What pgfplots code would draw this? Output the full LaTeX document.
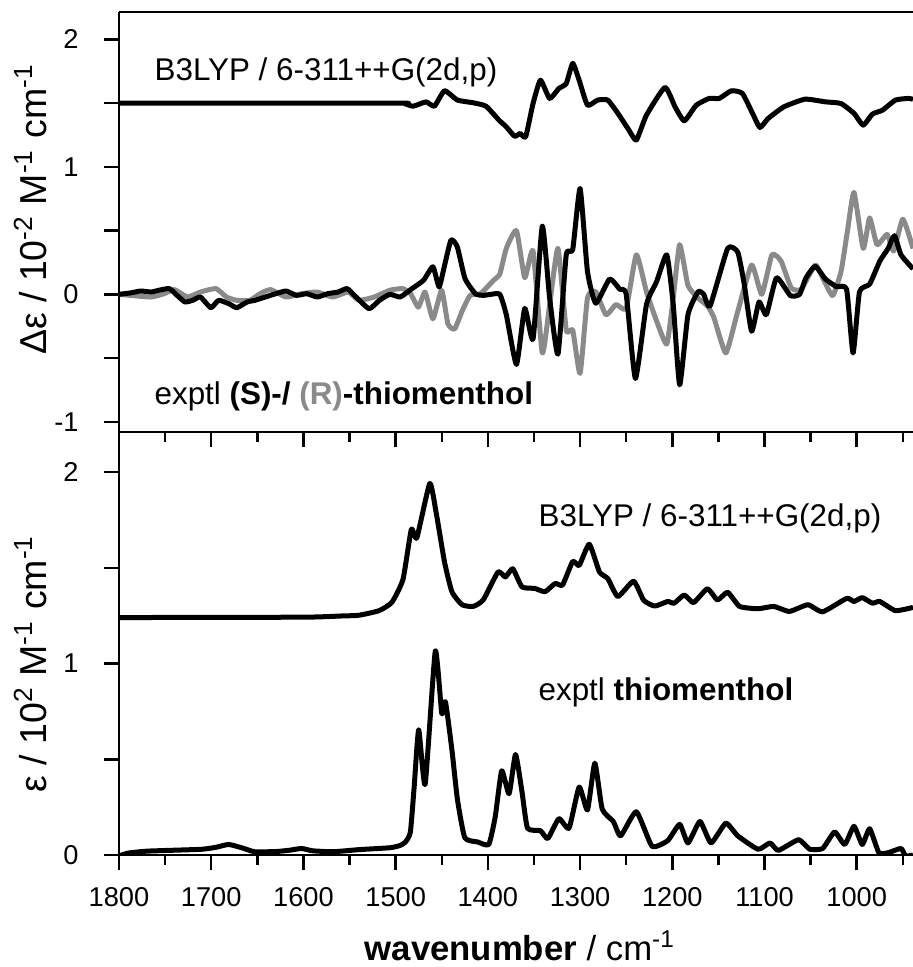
\documentclass[border=0pt]{standalone}
\usepackage{fontspec}
\setmainfont{Liberation Sans}
\usepackage{pgfplots}
\pgfplotsset{compat=1.18}
\definecolor{rgray}{RGB}{138,138,138}
\begin{document}
\begin{tikzpicture}
\useasboundingbox (-42.84pt,-40.32pt) rectangle (285.84pt,307.8pt);
\pgfplotsset{
  common/.style={
    scale only axis, width=285.84pt,
    xmin=939, xmax=1800, x dir=reverse,
    axis x line*=box, axis y line*=left,
    axis line style={line width=1pt},
    tick style={line width=0.9pt, black},
    tick align=outside,
    major tick length=5.5pt, minor tick length=3.5pt,
    xtick={1000,1100,1200,1300,1400,1500,1600,1700,1800},
    minor xtick={950,1050,1150,1250,1350,1450,1550,1650,1750},
    xtick pos=bottom, ytick pos=left,
    tick label style={font=\fontsize{9.8}{11}\selectfont},
    yticklabel style={xshift=-5.5pt},
    xticklabel style={yshift=-2.5pt},
    every axis plot/.append style={line width=1.8pt, line join=round, smooth, tension=0.3},
  }
}
% ---------------- bottom panel: absorption ----------------
\begin{axis}[common, at={(0pt,0pt)}, anchor=south west, height=152.28pt,
  ymin=0, ymax=2.209,
  ytick={0,0.5,1,1.5,2}, yticklabels={0,,1,,2},
  xticklabels={1000,1100,1200,1300,1400,1500,1600,1700,1800},
  xlabel={\textbf{wavenumber} / cm\textsuperscript{-1}},
  xlabel style={font=\fontsize{12.5}{14}\selectfont, at={(axis description cs:0.505,-0.2483)}, anchor=base},
  ylabel={ε / 10\textsuperscript{2} M\textsuperscript{-1} cm\textsuperscript{-1}},
  ylabel style={font=\fontsize{13.5}{15}\selectfont, at={(axis description cs:-0.0907,0.452)}, anchor=base},
]
\addplot[black] coordinates {
(1800,1.24) (1600,1.242) (1560,1.248) (1540,1.252) (1518,1.276) (1504,1.32) (1492,1.44) (1483,1.70) (1477,1.657) (1463,1.94) (1456,1.786) (1447,1.53) (1439,1.375) (1428,1.307) (1416,1.298) (1405,1.332) (1389,1.478) (1381,1.452) (1373,1.495) (1363,1.40) (1349,1.392) (1338,1.375) (1327,1.418) (1319,1.41) (1308,1.533) (1301,1.512) (1290,1.623) (1279,1.478) (1270,1.444) (1259,1.35) (1242,1.43) (1231,1.33) (1219,1.30) (1205,1.324) (1198,1.315) (1187,1.358) (1177,1.318) (1162,1.39) (1151,1.332) (1140,1.372) (1127,1.298) (1107,1.286) (1090,1.298) (1073,1.272) (1053,1.307) (1037,1.27) (1011,1.34) (1003,1.324) (994,1.344) (983,1.315) (975,1.324) (958,1.276) (939,1.293)
};
\addplot[black] coordinates {
(1800,-0.005) (1790,0.01) (1770,0.02) (1740,0.025) (1710,0.03) (1695,0.04) (1681,0.055) (1665,0.035) (1653,0.017) (1630,0.018) (1615,0.025) (1602,0.034) (1590,0.022) (1568,0.017) (1540,0.028) (1506,0.038) (1495,0.05) (1489,0.07) (1484,0.12) (1480,0.35) (1475,0.654) (1468,0.37) (1457,1.065) (1450,0.74) (1446,0.80) (1439,0.55) (1433,0.29) (1425,0.09) (1411,0.068) (1399,0.055) (1392,0.2) (1385,0.44) (1377,0.32) (1370,0.525) (1363,0.33) (1357,0.14) (1343,0.127) (1335,0.086) (1323,0.19) (1312,0.14) (1301,0.355) (1292,0.235) (1284,0.48) (1276,0.24) (1264,0.175) (1256,0.10) (1239,0.226) (1222,0.046) (1205,0.075) (1192,0.16) (1183,0.063) (1170,0.175) (1158,0.063) (1142,0.166) (1129,0.10) (1107,0.03) (1094,0.063) (1085,0.024) (1063,0.08) (1051,0.03) (1037,0.034) (1024,0.12) (1013,0.055) (1003,0.15) (994,0.055) (986,0.137) (976,0.012) (966,0.012) (952,0.034) (947,-0.005) (939,0.0)
};
\node[anchor=base west, font=\fontsize{11.3}{13}\selectfont] at (axis cs:1355.6,1.718) {B3LYP / 6-311++G(2d,p)};
\node[anchor=base west, font=\fontsize{11.3}{13}\selectfont] at (axis cs:1355.6,0.809) {exptl \textbf{thiomenthol}};
\end{axis}
% ---------------- top panel: VCD ----------------
\begin{axis}[common, at={(0pt,152.28pt)}, anchor=south west, height=151.2pt,
  ymin=-1.08, ymax=2.215,
  ytick={-1,-0.5,0,0.5,1,1.5,2}, yticklabels={-1,,0,,1,,2},
  xticklabels={},
  ylabel={Δε / 10\textsuperscript{-2} M\textsuperscript{-1} cm\textsuperscript{-1}},
  ylabel style={font=\fontsize{13.5}{15}\selectfont, at={(axis description cs:-0.0907,0.53)}, anchor=base},
]
\addplot[black] coordinates {
(1800,1.5) (1500,1.5) (1490,1.495) (1481,1.476) (1467,1.51) (1458,1.476) (1447,1.597) (1433,1.524) (1416,1.503) (1402,1.476) (1388,1.367) (1380,1.314) (1371,1.24) (1365,1.262) (1359,1.236) (1351,1.497) (1343,1.68) (1333,1.537) (1323,1.615) (1315,1.654) (1308,1.812) (1301,1.68) (1292,1.484) (1281,1.524) (1270,1.524) (1259,1.42) (1247,1.288) (1239,1.21) (1228,1.406) (1208,1.623) (1197,1.471) (1187,1.361) (1174,1.484) (1160,1.537) (1149,1.537) (1136,1.597) (1124,1.576) (1113,1.42) (1105,1.309) (1096,1.38) (1079,1.471) (1056,1.531) (1034,1.51) (1017,1.497) (1003,1.42) (993,1.327) (983,1.414) (972,1.445) (958,1.524) (944,1.537) (939,1.53)
};
\addplot[rgray] coordinates {
(1800,0) (1787.6,-0.008) (1765.1,-0.021) (1751.1,0.005) (1739.8,0.037) (1725.7,-0.021) (1711.7,0.018) (1694.8,0.045) (1683.5,-0.021) (1672.3,-0.047) (1658.2,-0.047) (1647,0.005) (1635.7,0.037) (1618.8,-0.021) (1601.9,0.005) (1585.1,0.018) (1568.2,-0.021) (1551.3,0.018) (1540.1,-0.047) (1523.2,-0.021) (1506.3,0.032) (1492.3,0.045) (1483.8,0.005) (1475.4,-0.1) (1468.1,0.018) (1459.6,-0.192) (1450.1,0.032) (1443.3,-0.232) (1436,-0.271) (1427.6,-0.126) (1419.1,-0.008) (1407.9,0.005) (1393.8,0.11) (1387,0.16) (1380,0.36) (1369,0.5) (1360,0.13) (1351,0.34) (1341,-0.46) (1333,-0.08) (1324,0.36) (1315,-0.28) (1308,-0.28) (1300,-0.62) (1292,-0.03) (1283,0.02) (1272,-0.16) (1261,-0.08) (1250,-0.11) (1239,0.31) (1228,0.02) (1217,-0.21) (1206,-0.39) (1199,-0.03) (1192,0.39) (1183,0.07) (1172,-0.03) (1162,-0.09) (1155,-0.18) (1142,-0.46) (1130,-0.16) (1114,0.23) (1103,0) (1092,0.31) (1082,0.26) (1071,0.05) (1060,0.04) (1045,0.23) (1035,0.1) (1026,-0.01) (1017,0.18) (1010,0.5) (1003,0.8) (993,0.36) (986,0.6) (978,0.39) (967,0.47) (960,0.34) (950,0.59) (939,0.36)
};
\addplot[black] coordinates {
(1800,0) (1787.6,0.011) (1776.4,0.026) (1765.1,0.018) (1756.7,0.032) (1745.4,0.045) (1737,-0.008) (1728.5,-0.06) (1720.1,-0.047) (1711.7,-0.021) (1700.4,-0.105) (1692,-0.047) (1680.7,-0.074) (1672.3,-0.105) (1661,-0.06) (1652.6,-0.047) (1641.3,-0.021) (1630.1,0.005) (1618.8,0.026) (1607.6,-0.008) (1596.3,0.005) (1585.1,-0.021) (1573.8,0.005) (1562.6,0.018) (1552.5,0.045) (1542.9,-0.021) (1528.8,-0.113) (1517.6,-0.047) (1506.3,0) (1495.1,-0.021) (1483.8,0.037) (1469.8,0.11) (1459.6,0.216) (1452.9,0.058) (1447.3,0.216) (1440,0.426) (1433.2,0.374) (1424.8,0.124) (1413.5,0.005) (1405.1,-0.008) (1396.6,0) (1387,0) (1380,-0.16) (1369,-0.55) (1360,-0.11) (1351,-0.35) (1341,0.535) (1333,-0.03) (1324,-0.47) (1315,0.31) (1308,0.35) (1300,0.83) (1292,0.18) (1283,-0.07) (1268,0.12) (1257,0.04) (1250,0) (1240,-0.66) (1228,-0.08) (1217,0.1) (1206,0.31) (1199,-0.08) (1192,-0.71) (1183,-0.16) (1172,0.02) (1166,0.0) (1159,-0.09) (1140,0.36) (1129,0.33) (1122,0.08) (1114,-0.29) (1106,-0.06) (1098,-0.16) (1087,0.13) (1072,-0.01) (1062,0) (1055,0.13) (1045,0.22) (1034,0.12) (1022,0.06) (1011,0.04) (1004,-0.46) (997,0.02) (986,0.08) (975,0.26) (966,0.36) (959,0.46) (952,0.31) (939,0.2)
};
\node[anchor=base west, font=\fontsize{11.3}{13}\selectfont] at (axis cs:1772,1.677) {B3LYP / 6-311++G(2d,p)};
\node[anchor=base west, font=\fontsize{11.3}{13}\selectfont] at (axis cs:1772,-0.866) {exptl \textbf{(S)-/ \textcolor{rgray}{(R)}-thiomenthol}};
\end{axis}
\end{tikzpicture}
\end{document}
